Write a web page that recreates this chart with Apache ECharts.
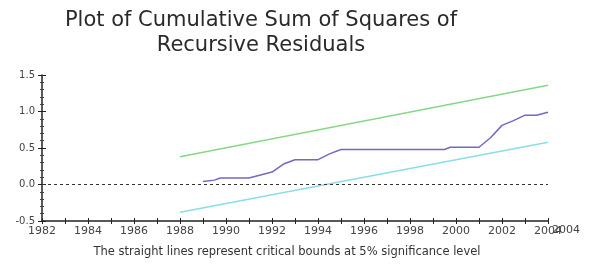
<!DOCTYPE html>
<html>
<head>
<meta charset="utf-8">
<script src="https://cdn.jsdelivr.net/npm/echarts@6/dist/echarts.min.js"></script>
<style>
  html, body { margin: 0; padding: 0; background: #fff; }
  #chart { width: 598px; height: 265px; }
</style>
</head>
<body>
<div id="chart"></div>
<script>
// bounds are straight lines, so two end points each
const boundYears = [1988, 2004];
const upperBound = [0.38, 1.36];
const lowerBound = [-0.38, 0.58];

// cumulative sum of squares (quarterly steps)
const cusumYears = [1989.0, 1989.5, 1989.75, 1991.0, 1991.5, 1992.0, 1992.5, 1993.0, 1994.0, 1994.5,
  1995.0, 1999.5, 1999.75, 2001.0, 2001.5, 2002.0, 2002.5, 2003.0, 2003.5, 2004.0];
const cusumValues = [0.04, 0.06, 0.09, 0.09, 0.13, 0.17, 0.28, 0.34, 0.34, 0.42,
  0.48, 0.48, 0.51, 0.51, 0.64, 0.81, 0.875, 0.95, 0.95, 0.99];

const yTicks = [-0.5, 0.0, 0.5, 1.0, 1.5];
const titleText = 'Plot of Cumulative Sum of Squares of\nRecursive Residuals';
const noteText = 'The straight lines represent critical bounds at 5% significance level';

const zip = (xs, ys) => xs.map((x, i) => [x, ys[i]]);
const font = 'DejaVu Sans';

const chart = echarts.init(document.getElementById('chart'), null, { renderer: 'canvas' });

const xBase = {
  type: 'value', min: 1982, max: 2004, interval: 1,
  splitLine: { show: false }
};
const yBase = {
  type: 'value', min: yTicks[0], max: yTicks[yTicks.length - 1], interval: 0.5,
  splitLine: { show: false }
};

chart.setOption({
  animation: false,
  backgroundColor: '#fff',
  grid: { left: 42, right: 50, top: 75, bottom: 44 },
  xAxis: [
    Object.assign({}, xBase, {
      axisLine: { onZero: false, lineStyle: { color: '#222', width: 1.5 } },
      axisTick: { length: 3, lineStyle: { color: '#222' } },
      axisLabel: {
        margin: 5, color: '#444', fontFamily: font, fontSize: 11,
        formatter: v => (v % 2 === 0 ? String(v) : ''),
        showMinLabel: true, showMaxLabel: true
      }
    }),
    Object.assign({}, xBase, {
      position: 'bottom',
      axisLine: { show: false, onZero: false },
      axisTick: { inside: true, length: 3, lineStyle: { color: '#222' } },
      axisLabel: { show: false }
    })
  ],
  yAxis: [
    Object.assign({}, yBase, {
      axisLine: { show: true, onZero: false, lineStyle: { color: '#222', width: 1.5 } },
      axisTick: { show: true, length: 4, lineStyle: { color: '#222' } },
      minorTick: { show: true, splitNumber: 5, length: 2, lineStyle: { color: '#444' } },
      axisLabel: {
        margin: 7, color: '#444', fontFamily: font, fontSize: 10,
        formatter: v => v.toFixed(1)
      }
    }),
    Object.assign({}, yBase, {
      position: 'left',
      axisLine: { show: false, onZero: false },
      axisTick: { show: true, inside: true, length: 4, lineStyle: { color: '#222' } },
      minorTick: { show: true, splitNumber: 5, length: 2, lineStyle: { color: '#444' } },
      axisLabel: { show: false }
    })
  ],
  series: [
    {
      name: 'Upper bound', type: 'line', xAxisIndex: 0, yAxisIndex: 0,
      data: zip(boundYears, upperBound), showSymbol: false,
      lineStyle: { color: '#86d886', width: 1.5 }
    },
    {
      name: 'Lower bound', type: 'line', xAxisIndex: 0, yAxisIndex: 0,
      data: zip(boundYears, lowerBound), showSymbol: false,
      lineStyle: { color: '#88dfe8', width: 1.5 }
    },
    {
      name: 'CUSUM of squares', type: 'line', xAxisIndex: 0, yAxisIndex: 0,
      data: zip(cusumYears, cusumValues), showSymbol: false,
      lineStyle: { color: '#7468c4', width: 1.5 },
      markLine: {
        silent: true, symbol: 'none', label: { show: false },
        lineStyle: { color: '#333', type: [3, 3], width: 1 },
        data: [{ yAxis: 0 }]
      }
    }
  ],
  graphic: [
    {
      // title sits left of centre in the original
      type: 'text', x: 261, y: 8, silent: true,
      style: {
        text: titleText, fill: '#2a2a2a', align: 'center', lineHeight: 25,
        font: '21px "DejaVu Sans"'
      }
    },
    {
      type: 'text', left: 552, top: 225, silent: true,
      style: { text: '2004', fill: '#444', font: '11px "DejaVu Sans"' }
    },
    {
      type: 'text', x: 287, y: 246, silent: true,
      style: { text: noteText, fill: '#333', align: 'center', font: '11.5px "DejaVu Sans"' }
    }
  ]
});
</script>
</body>
</html>
